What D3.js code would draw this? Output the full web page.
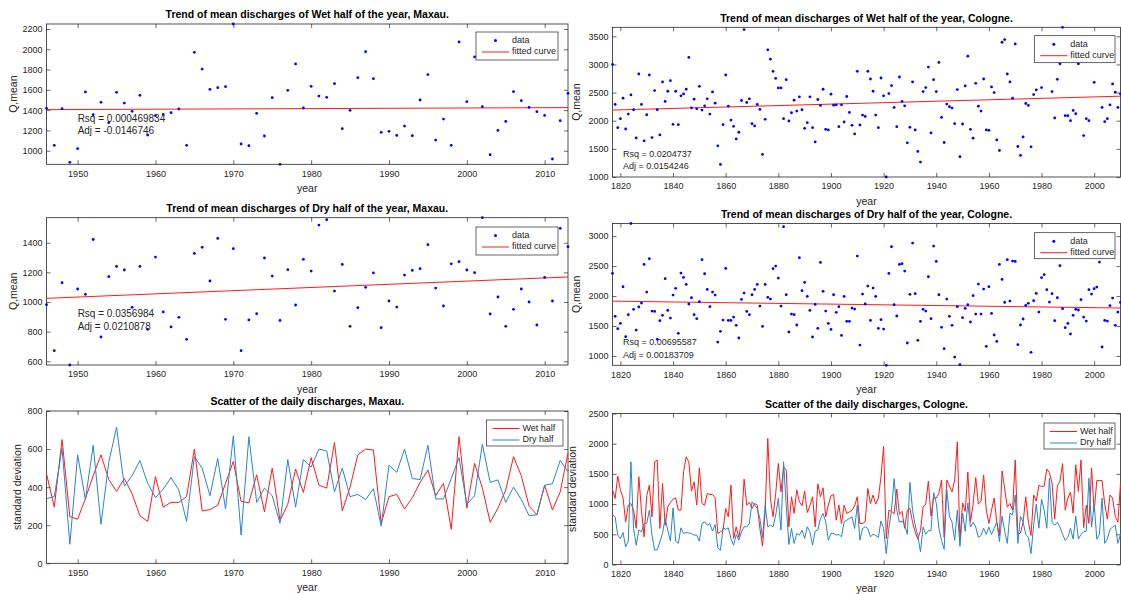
<!DOCTYPE html>
<html>
<head>
<meta charset="utf-8">
<script src="https://cdn.jsdelivr.net/npm/d3@7"></script>
<style>
  body { margin: 0; background: #fff; }
  svg { font-family: "Liberation Sans", Arial, sans-serif; }
  .axis text { fill: #262626; font-size: 9px; font-family: "Liberation Sans", Arial, sans-serif; }
  .axis line { stroke: #262626; stroke-width: 0.7; }
</style>
</head>
<body>
<svg id="chart" width="1121" height="594"></svg>
<script>
// ---- Maxau, 1946 - 2013 ----
const maxauStart = 1946;
const maxauWetMean = [1418, 1053, 1414, 885, 1020, 1579, 1355, 1477, 1276, 1575,
  1470, 1388, 1546, 1154, 1345, 1358, 1375, 1411, 1053, 1970,
  1805, 1605, 1621, 1631, 2249, 1066, 1049, 1368, 1145, 1523,
  866, 1595, 1855, 1421, 1635, 1539, 1526, 1661, 1217, 1398,
  1720, 1976, 1710, 1181, 1191, 1151, 1243, 1148, 1500, 1750,
  1105, 1312, 1053, 2072, 1483, 1924, 1434, 960, 1200, 1289,
  1582, 1493, 1427, 1385, 1348, 918, 1296, 1565];
const maxauDryMean = [982, 672, 1130, 575, 1088, 1052, 1422, 764, 1171, 1240,
  1216, 964, 1240, 816, 1303, 933, 832, 897, 748, 1328,
  1369, 1142, 1429, 883, 1360, 672, 879, 921, 1297, 1175,
  876, 1218, 980, 1288, 1209, 1519, 1555, 1074, 1254, 836,
  962, 1099, 1196, 827, 1007, 966, 1182, 1213, 1225, 1387,
  1094, 973, 1258, 1272, 1216, 1198, 1569, 919, 1034, 836,
  951, 1088, 1000, 845, 1166, 1007, 1497, 1373];
const maxauWetStd = [470, 295, 650, 245, 232, 340, 460, 570, 440, 378,
  445, 365, 250, 220, 455, 295, 320, 320, 350, 600,
  275, 282, 305, 420, 535, 325, 318, 465, 270, 500,
  225, 310, 495, 372, 555, 410, 395, 635, 275, 400,
  570, 600, 595, 210, 350, 362, 285, 345, 425, 490,
  355, 420, 178, 665, 290, 525, 395, 215, 290, 385,
  560, 460, 300, 255, 410, 280, 375, 580];
const maxauDryStd = [340, 350, 605, 100, 570, 335, 620, 205, 530, 715,
  405, 460, 540, 420, 345, 390, 450, 385, 220, 560,
  500, 355, 550, 285, 670, 148, 665, 320, 395, 355,
  210, 545, 295, 545, 505, 600, 590, 375, 500, 350,
  362, 335, 392, 195, 515, 478, 600, 445, 440, 620,
  338, 338, 445, 555, 310, 355, 625, 425, 438, 320,
  400, 335, 250, 255, 410, 418, 540, 480];
const maxauWetFit = [1405, 1425];
const maxauDryFit = [1025, 1169];

// ---- Cologne, 1817 - 2010 ----
const cologneStart = 1817;
const cologneWetMean = [3000, 2289, 1877, 2036, 2400, 1853, 2118, 2459, 2195, 1695,
  2830, 2289, 1642, 2106, 2812, 1700, 2536, 2195, 1748, 2689,
  2342, 2524, 2712, 1936, 2524, 1930, 2442, 2477, 2559, 3124,
  2230, 2383, 2212, 2612, 2189, 2265, 2389, 2118, 2512, 2312,
  1554, 1224, 1930, 2812, 2259, 2012, 1901, 1677, 1795, 2359,
  3620, 2324, 2389, 1948, 1907, 2289, 2200, 1401, 2024, 3259,
  3094, 2877, 2753, 2583, 2583, 2036, 2730, 1995, 2142, 2365,
  2171, 2424, 2195, 1865, 1965, 2424, 1877, 1624, 2377, 2271,
  2559, 1848, 1836, 2471, 2277, 2283, 1895, 2283, 1977, 2430,
  2148, 1918, 1765, 2877, 1924, 2100, 2077, 2877, 2741, 2524,
  2100, 1877, 2759, 2442, 1000, 2483, 2624, 2236, 1895, 2777,
  2342, 2265, 1607, 1883, 2689, 1836, 1454, 1266, 2518, 2589,
  2953, 1783, 2730, 2518, 3035, 2059, 1613, 2295, 2248, 2224,
  1948, 2553, 1360, 1942, 2618, 3147, 1848, 1689, 2665, 2259,
  2171, 2741, 1836, 1830, 2600, 2500, 1659, 1471, 3394, 3441,
  2830, 2689, 2400, 3365, 1542, 1383, 1712, 2306, 2271, 1536,
  2465, 2547, 3150, 2589, 3300, 3250, 3200, 2518, 2048, 2736,
  3012, 3660, 2089, 2089, 2000, 2183, 2124, 3012, 3300, 1736,
  2036, 2000, 3300, 2683, 3400, 3250, 2236, 1983, 2036, 2283,
  2653, 2506, 2236, 2477];
const cologneDryMean = [2378, 1661, 1455, 1544, 2155, 1322, 1689, 3210, 1778, 1433,
  1817, 1883, 2528, 2067, 2622, 1750, 1744, 1278, 1589, 1678,
  2289, 1761, 1633, 2017, 2128, 1378, 2383, 2311, 2194, 1867,
  1972, 1689, 1622, 1906, 2606, 2372, 2111, 1822, 2067, 2017,
  1233, 1411, 1600, 2461, 1594, 1594, 1650, 1511, 1300, 1944,
  2050, 1744, 1689, 2022, 2111, 2194, 1833, 1494, 2194, 1978,
  1950, 2456, 2500, 2300, 1833, 3156, 2022, 1400, 1700, 1689,
  1517, 2639, 2089, 2228, 1994, 1761, 1317, 1861, 1461, 2561,
  2078, 1750, 1544, 1444, 2022, 1728, 1822, 1344, 1994, 1578,
  1578, 1800, 1783, 2667, 1183, 2033, 1867, 2167, 1594, 2133,
  1994, 1461, 1606, 1450, 845, 2378, 2822, 1856, 1667, 2528,
  2540, 2417, 1217, 2028, 2883, 2039, 1261, 1578, 1778, 1750,
  2322, 1622, 2833, 2578, 2022, 1478, 1122, 1950, 1661, 1511,
  983, 1822, 855, 1639, 1794, 1856, 1567, 2006, 1700, 2200,
  1700, 2117, 1161, 2156, 1711, 1350, 1244, 2528, 2278, 1894,
  2606, 1917, 2583, 2578, 1189, 1517, 1617, 1844, 1878, 1061,
  1922, 2044, 1733, 2306, 2356, 2106, 1900, 2039, 1589, 1972,
  2506, 1789, 1472, 1544, 1367, 1678, 1778, 1767, 1939, 1650,
  1583, 2106, 2033, 2122, 2150, 2567, 1150, 1594, 1583, 1839,
  1967, 1511, 1733, 1894];
const cologneWetStd = [1242, 1093, 1463, 1231, 1104, 707, 983, 1010, 900, 600,
  1452, 900, 458, 1137, 1314, 789, 1700, 1728, 596, 1341,
  651, 955, 1027, 1082, 1104, 900, 900, 1535, 1783, 1700,
  1214, 1369, 983, 1601, 1010, 983, 1176, 1159, 1159, 1104,
  513, 541, 569, 927, 789, 1314, 431, 624, 450, 707,
  1413, 983, 1027, 927, 1010, 983, 596, 304, 883, 2087,
  1093, 789, 1176, 1673, 1203, 1617, 1562, 624, 1121, 845,
  1236, 1038, 972, 1214, 861, 972, 1121, 624, 1336, 1121,
  1270, 789, 983, 1137, 1159, 734, 983, 679, 983, 845,
  872, 900, 972, 1121, 679, 679, 707, 1259, 1010, 1150,
  1000, 1100, 1450, 1960, 430, 900, 880, 840, 1250, 830,
  880, 600, 900, 930, 700, 540, 420, 560, 950, 1000,
  1380, 800, 1100, 1100, 1180, 1400, 450, 1400, 1300, 1200,
  1400, 2030, 400, 1020, 880, 1530, 700, 1000, 1440, 1000,
  1050, 1480, 900, 680, 900, 1100, 700, 480, 1550, 1250,
  950, 1010, 900, 1730, 500, 520, 700, 1120, 700, 480,
  1150, 1050, 1310, 1290, 1300, 1580, 1520, 1350, 750, 1300,
  1380, 1670, 900, 1100, 1200, 850, 1650, 1210, 1730, 610,
  980, 680, 1600, 880, 1390, 1390, 1390, 1000, 750, 1150,
  1100, 800, 700, 1340];
const cologneDryStd = [828, 789, 486, 430, 530, 293, 386, 1700, 596, 320,
  569, 541, 679, 679, 900, 486, 237, 243, 375, 513,
  762, 569, 386, 938, 386, 348, 607, 513, 530, 524,
  513, 486, 486, 386, 679, 707, 651, 679, 552, 662,
  276, 237, 607, 585, 607, 431, 320, 497, 403, 541,
  624, 624, 679, 1038, 983, 927, 762, 442, 983, 624,
  651, 624, 817, 1093, 569, 1700, 983, 331, 596, 348,
  513, 486, 569, 431, 624, 541, 320, 552, 569, 762,
  845, 707, 403, 513, 513, 486, 497, 458, 707, 734,
  762, 789, 596, 983, 403, 596, 624, 596, 458, 500,
  480, 450, 720, 600, 180, 600, 900, 1420, 900, 700,
  720, 650, 500, 1360, 900, 650, 480, 210, 620, 500,
  560, 560, 1190, 1020, 600, 400, 250, 1240, 800, 700,
  400, 900, 300, 850, 550, 1020, 620, 700, 620, 450,
  480, 600, 500, 620, 500, 600, 700, 380, 800, 550,
  350, 850, 820, 1150, 350, 800, 700, 500, 450, 180,
  650, 1000, 600, 1080, 900, 600, 1430, 700, 650, 700,
  620, 500, 400, 450, 600, 420, 800, 420, 500, 540,
  550, 1430, 620, 1000, 420, 500, 1100, 350, 420, 580,
  620, 650, 350, 500];
const cologneWetFit = [2189, 2436];
const cologneDryFit = [1915, 1800];

const maxauXTicks = [1950, 1960, 1970, 1980, 1990, 2000, 2010];
const cologneXTicks = [1820, 1840, 1860, 1880, 1900, 1920, 1940, 1960, 1980, 2000];

const fitStats = {
  maxauWet: ['Rsq = 0.000469834', 'Adj = -0.0146746'],
  maxauDry: ['Rsq = 0.0356984', 'Adj = 0.0210878'],
  cologneWet: ['Rsq = 0.0204737', 'Adj = 0.0154246'],
  cologneDry: ['Rsq = 0.00695587', 'Adj = 0.00183709']
};

const RED = '#ff1a1a';
const BLUE = '#2a84c9';
const DOT = '#0000ff';

const svg = d3.select('#chart');

function toPoints(start, values) {
  return values.map((v, i) => [start + i, v]);
}

function makeAxes(p) {
  const g = svg.append('g');
  const x = d3.scaleLinear().domain(p.xDomain).range([p.left, p.right]);
  const y = d3.scaleLinear().domain(p.yDomain).range([p.bottom, p.top]);

  const noDomain = (sel) => sel.select('.domain').remove();

  g.append('g').attr('class', 'axis')
    .attr('transform', `translate(0,${p.bottom})`)
    .call(d3.axisBottom(x).tickValues(p.xTicks).tickFormat(d3.format('d'))
      .tickSizeInner(-4).tickSizeOuter(0).tickPadding(6))
    .call(noDomain);
  g.append('g').attr('class', 'axis')
    .attr('transform', `translate(0,${p.top})`)
    .call(d3.axisTop(x).tickValues(p.xTicks).tickFormat('')
      .tickSizeInner(-4).tickSizeOuter(0))
    .call(noDomain);
  g.append('g').attr('class', 'axis')
    .attr('transform', `translate(${p.left},0)`)
    .call(d3.axisLeft(y).tickValues(p.yTicks).tickFormat(d3.format('d'))
      .tickSizeInner(-4).tickSizeOuter(0).tickPadding(4))
    .call(noDomain);
  g.append('g').attr('class', 'axis')
    .attr('transform', `translate(${p.right},0)`)
    .call(d3.axisRight(y).tickValues(p.yTicks).tickFormat('')
      .tickSizeInner(-4).tickSizeOuter(0))
    .call(noDomain);

  g.append('rect')
    .attr('x', p.left).attr('y', p.top)
    .attr('width', p.right - p.left).attr('height', p.bottom - p.top)
    .attr('fill', 'none').attr('stroke', '#262626').attr('stroke-width', 0.8);

  g.append('text')
    .attr('x', (p.left + p.right) / 2).attr('y', p.top - 8.5)
    .attr('text-anchor', 'middle').attr('dominant-baseline', 'middle')
    .attr('font-size', '10.5px').attr('font-weight', 'bold').attr('fill', '#000')
    .text(p.title);

  g.append('text')
    .attr('x', (p.left + p.right) / 2).attr('y', p.bottom + 25)
    .attr('text-anchor', 'middle').attr('dominant-baseline', 'middle')
    .attr('font-size', '10.5px').attr('fill', '#262626')
    .text('year');

  g.append('text')
    .attr('transform', `translate(${p.ylabelX},${(p.top + p.bottom) / 2}) rotate(-90)`)
    .attr('text-anchor', 'middle').attr('dominant-baseline', 'middle')
    .attr('font-size', '10.5px').attr('fill', '#262626')
    .text(p.ylabel);

  return { g, x, y };
}

function legend(g, box, entries) {
  const [lx, ly, lw, lh] = box;
  const lg = g.append('g').attr('transform', `translate(${lx},${ly})`);
  lg.append('rect').attr('width', lw).attr('height', lh)
    .attr('fill', '#fff').attr('stroke', '#262626').attr('stroke-width', 0.7);
  entries.forEach((e, i) => {
    const cy = 8.5 + i * 11.5;
    if (e.type === 'dot') {
      lg.append('circle').attr('cx', 19.5).attr('cy', cy).attr('r', 1.5).attr('fill', e.color);
    } else {
      lg.append('line').attr('x1', 6).attr('x2', 33).attr('y1', cy).attr('y2', cy)
        .attr('stroke', e.color).attr('stroke-width', 1);
    }
    lg.append('text').attr('x', 36).attr('y', cy)
      .attr('dominant-baseline', 'middle').attr('font-size', '9px').attr('fill', '#262626')
      .text(e.label);
  });
}

function scatterPanel(p, start, values, fit, stats) {
  const { g, x, y } = makeAxes(p);
  const last = start + values.length - 1;

  g.append('path')
    .datum([[start, fit[0]], [last, fit[1]]])
    .attr('d', d3.line().x(d => x(d[0])).y(d => y(d[1])))
    .attr('fill', 'none').attr('stroke', RED).attr('stroke-width', 1);

  g.selectAll('circle.pt')
    .data(toPoints(start, values))
    .enter().append('circle')
    .attr('class', 'pt')
    .attr('cx', d => x(d[0])).attr('cy', d => y(d[1]))
    .attr('r', 1.4).attr('fill', DOT);

  g.selectAll('text.stat')
    .data(stats)
    .enter().append('text')
    .attr('class', 'stat')
    .attr('x', x(p.statAt[0]))
    .attr('y', (d, i) => y(p.statAt[1 + i]))
    .attr('dominant-baseline', 'middle')
    .attr('font-size', p.statFont).attr('fill', '#262626')
    .text(d => d);

  legend(g, p.legend, [
    { type: 'dot', color: DOT, label: 'data' },
    { type: 'line', color: RED, label: 'fitted curve' }
  ]);
}

function linePanel(p, start, wet, dry) {
  const { g, x, y } = makeAxes(p);
  const line = d3.line().x(d => x(d[0])).y(d => y(d[1]));
  g.append('path').datum(toPoints(start, wet)).attr('d', line)
    .attr('fill', 'none').attr('stroke', RED).attr('stroke-width', 1);
  g.append('path').datum(toPoints(start, dry)).attr('d', line)
    .attr('fill', 'none').attr('stroke', BLUE).attr('stroke-width', 1);
  legend(g, p.legend, [
    { type: 'line', color: RED, label: 'Wet half' },
    { type: 'line', color: BLUE, label: 'Dry half' }
  ]);
}

const maxauX = { xDomain: [1946, 2013], left: 46.5, right: 568, xTicks: maxauXTicks, ylabelX: 14 };
const cologneX = { xDomain: [1817, 2010], left: 612.5, right: 1120.5, xTicks: cologneXTicks, ylabelX: 577 };

scatterPanel(Object.assign({}, maxauX, {
  top: 24, bottom: 164.3, yDomain: [866, 2249],
  yTicks: [1000, 1200, 1400, 1600, 1800, 2000, 2200],
  title: 'Trend of mean discharges of Wet half of the year, Maxau.', ylabel: 'Q,mean',
  statAt: [1950, 1307, 1187], statFont: '10px', legend: [476, 32, 82, 28]
}), maxauStart, maxauWetMean, maxauWetFit, fitStats.maxauWet);

scatterPanel(Object.assign({}, maxauX, {
  top: 217.7, bottom: 365, yDomain: [575, 1569],
  yTicks: [600, 800, 1000, 1200, 1400],
  title: 'Trend of mean discharges of Dry half of the year, Maxau.', ylabel: 'Q,mean',
  statAt: [1950, 919, 827], statFont: '10px', legend: [476, 227, 82, 28]
}), maxauStart, maxauDryMean, maxauDryFit, fitStats.maxauDry);

linePanel(Object.assign({}, maxauX, {
  top: 411, bottom: 563.3, yDomain: [0, 800],
  yTicks: [0, 200, 400, 600, 800], ylabelX: 18,
  title: 'Scatter of the daily discharges, Maxau.', ylabel: 'standard deviation',
  legend: [486.5, 420, 76.5, 26]
}), maxauStart, maxauWetStd, maxauDryStd);

scatterPanel(Object.assign({}, cologneX, {
  top: 27.3, bottom: 177, yDomain: [1000, 3660],
  yTicks: [1000, 1500, 2000, 2500, 3000, 3500],
  title: 'Trend of mean discharges of Wet half of the year, Cologne.', ylabel: 'Q,mean',
  statAt: [1821, 1391, 1183], statFont: '9px', legend: [1034.3, 35.7, 80.7, 27]
}), cologneStart, cologneWetMean, cologneWetFit, fitStats.cologneWet);

scatterPanel(Object.assign({}, cologneX, {
  top: 223.5, bottom: 365.3, yDomain: [845, 3210],
  yTicks: [1000, 1500, 2000, 2500, 3000],
  title: 'Trend of mean discharges of Dry half of the year, Cologne.', ylabel: 'Q,mean',
  statAt: [1821, 1217, 1000], statFont: '9px', legend: [1034.3, 232.7, 80.7, 26]
}), cologneStart, cologneDryMean, cologneDryFit, fitStats.cologneDry);

linePanel(Object.assign({}, cologneX, {
  top: 413.5, bottom: 564.5, yDomain: [0, 2500],
  yTicks: [0, 500, 1000, 1500, 2000, 2500], ylabelX: 573,
  title: 'Scatter of the daily discharges, Cologne.', ylabel: 'standard deviation',
  legend: [1044, 423, 71, 26]
}), cologneStart, cologneWetStd, cologneDryStd);
</script>
</body>
</html>
